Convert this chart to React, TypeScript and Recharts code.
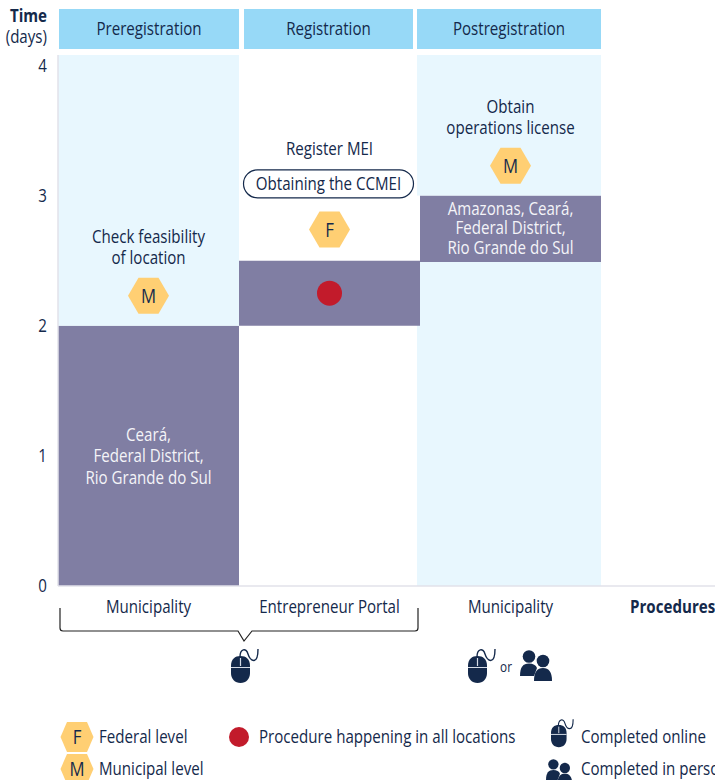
import {
  Bar,
  BarChart,
  Cell,
  ReferenceDot,
  XAxis,
  YAxis,
} from "recharts";

const stages = ["Preregistration", "Registration", "Postregistration"];
const authorities = ["Municipality", "Entrepreneur Portal", "Municipality"];
const lowerDays = [2, 2, 2.49];
const darkDays = [0, 0.5, 0.51];
const upperDays = [2.08, 1.58, 1.08];
const dayTicks = [0, 1, 2, 3, 4];

const data = stages.map((stage, i) => ({
  stage,
  lower: lowerDays[i],
  dark: darkDays[i],
  upper: upperDays[i],
}));

const TEXT = "#14294b";
const HEADER = "#97d9f7";
const LIGHT = "#e8f7fe";
const DARK = "#807ea3";
const HEX = "#ffcf73";
const RED = "#c21b2b";
const FONT = "'Open Sans', sans-serif";
const SQUEEZE = 0.84;

// header rectangles are not quite the same as the bands
const headerEdges = [
  [-89.5, 90.5],
  [-85.5, 83.5],
  [-93.5, 90.5],
];

const T = ({ x, y, children, size = 18, anchor = "middle", fill = TEXT, weight = 400 }: any) => (
  <text
    transform={`translate(${x},${y - 0.7}) scale(${SQUEEZE},1)`}
    textAnchor={anchor}
    dominantBaseline="central"
    fontFamily={FONT}
    fontSize={size}
    fontWeight={weight}
    fill={fill}
  >
    {children}
  </text>
);

const Hexagon = ({ cx, cy, letter, rx = 20.5, ry = 18, flat = 10 }: any) => (
  <g>
    <polygon
      points={`${cx - rx},${cy} ${cx - flat},${cy - ry} ${cx + flat},${cy - ry} ${cx + rx},${cy} ${cx + flat},${cy + ry} ${cx - flat},${cy + ry}`}
      fill={HEX}
    />
    <T x={cx} y={cy} size={20}>
      {letter}
    </T>
  </g>
);

const MouseIcon = ({ x, y, s = 1 }: any) => (
  <g transform={`translate(${x},${y}) scale(${s})`}>
    <path d="M9 1 C9 -7 15 -9 17 -2 C19 5 27 10 27 -7" fill="none" stroke={TEXT} strokeWidth={1.4} />
    <path d="M0 10 C0 3 4 0 9.5 0 C15 0 19 3 19 10 L19 17 C19 23 15 27 9.5 27 C4 27 0 23 0 17 Z" fill={TEXT} />
    <path d="M0 11.5 H19 M9.5 2 V10" stroke="#d5dbe6" strokeWidth={1.2} fill="none" />
  </g>
);

const PeopleIcon = ({ x, y, s = 1 }: any) => (
  <g transform={`translate(${x},${y}) scale(${s})`} fill={TEXT}>
    <circle cx={9} cy={6.5} r={6.3} />
    <path d="M0 26 C0 17 3 13.5 9 13.5 C13 13.5 16 15 17 18 L14 26 Z" />
    <circle cx={23} cy={11} r={6.3} />
    <path d="M14 31 C14 22 17 18 23 18 C29 18 32 22 32 31 Z" />
  </g>
);

const HeaderTick = ({ x, payload, index }: any) => {
  const [from, to] = headerEdges[index];
  return (
    <g>
      <rect x={x + from} y={9} width={to - from} height={40} fill={HEADER} />
      <T x={x + (from + to) / 2} y={29}>
        {payload.value}
      </T>
    </g>
  );
};

const AuthorityTick = ({ x, index }: any) => (
  <T x={x} y={607}>
    {authorities[index]}
  </T>
);

const DayTick = ({ y, payload }: any) => (
  <T x={47} y={y} anchor="end">
    {payload.value}
  </T>
);

// the postregistration tint starts a little left of its band
const TintBar = ({ x, y, width, height, fill, index }: any) => {
  const extra = index === 2 ? 3 : 0;
  return <rect x={x - extra} y={y} width={width + extra} height={height} fill={fill} />;
};

const notes = [
  { stage: stages[0], day: 2.6, lines: ["Check feasibility", "of location"] },
  { stage: stages[2], day: 3.6, lines: ["Obtain", "operations license"] },
];
const darkNotes = [
  { stage: stages[0], day: 1, lines: ["Ceará,", "Federal District,", "Rio Grande do Sul"], gap: 21.5 },
  { stage: stages[2], day: 2.75, lines: ["Amazonas, Ceará,", "Federal District,", "Rio Grande do Sul"], gap: 19.5 },
];
const hexNotes = [
  { stage: stages[0], day: 2.23, letter: "M" },
  { stage: stages[1], day: 2.74, letter: "F" },
  { stage: stages[2], day: 3.23, letter: "M" },
];

const Lines = ({ cx, cy, lines, fill, gap = 21 }: any) => (
  <g>
    {lines.map((line: string, i: number) => (
      <T key={i} x={cx} y={cy + (i - (lines.length - 1) / 2) * gap} fill={fill}>
        {line}
      </T>
    ))}
  </g>
);

const App = () => {
  return (
    <div style={{ position: "absolute", left: 0, top: 0, width: 715, height: 780 }}>
      <BarChart
        width={715}
        height={780}
        data={data}
        barCategoryGap={0}
        margin={{ top: 0, right: 0, bottom: 164, left: 0 }}
      >
        <XAxis
          xAxisId="top"
          orientation="top"
          dataKey="stage"
          height={55}
          padding={{ left: 0, right: 114 }}
          axisLine={false}
          tickLine={false}
          tick={<HeaderTick />}
        />
        <XAxis
          dataKey="stage"
          height={30}
          padding={{ left: 0, right: 114 }}
          axisLine={{ stroke: "#e2e2ea", strokeWidth: 1.5 }}
          tickLine={false}
          tick={<AuthorityTick />}
        />
        <YAxis
          width={58}
          domain={[0, 4.08]}
          ticks={dayTicks}
          axisLine={{ stroke: "#e2e2ea", strokeWidth: 1.5 }}
          tickLine={false}
          tick={<DayTick />}
        />
        <Bar dataKey="lower" stackId="a" shape={<TintBar />} isAnimationActive={false}>
          <Cell fill={DARK} />
          <Cell fill="none" />
          <Cell fill={LIGHT} />
        </Bar>
        <Bar dataKey="dark" stackId="a" fill={DARK} isAnimationActive={false} />
        <Bar dataKey="upper" stackId="a" shape={<TintBar />} isAnimationActive={false}>
          <Cell fill={LIGHT} />
          <Cell fill="none" />
          <Cell fill={LIGHT} />
        </Bar>

        {notes.map((n) => (
          <ReferenceDot
            key={n.lines[0]}
            x={n.stage}
            y={n.day}
            shape={(p: any) => <Lines cx={p.cx} cy={p.cy} lines={n.lines} />}
          />
        ))}
        {darkNotes.map((n) => (
          <ReferenceDot
            key={n.lines[0]}
            x={n.stage}
            y={n.day}
            shape={(p: any) => <Lines cx={p.cx} cy={p.cy} lines={n.lines} gap={n.gap} fill="#f4f4f8" />}
          />
        ))}
        {hexNotes.map((n) => (
          <ReferenceDot
            key={n.stage}
            x={n.stage}
            y={n.day}
            shape={(p: any) => <Hexagon cx={p.cx} cy={p.cy} letter={n.letter} />}
          />
        ))}
        <ReferenceDot
          x={stages[1]}
          y={3.24}
          shape={(p: any) => (
            <g>
              <T x={p.cx} y={p.cy - 15.5}>Register MEI</T>
              <rect x={p.cx - 86} y={p.cy + 5.5} width={170} height={28} rx={14} fill="#fff" stroke={TEXT} strokeWidth={1.2} />
              <T x={p.cx - 1} y={p.cy + 19.5}>Obtaining the CCMEI</T>
            </g>
          )}
        />
        <ReferenceDot x={stages[1]} y={2.25} r={12.5} fill={RED} stroke="none" />

        <T x={47} y={16} anchor="end" weight={700}>Time</T>
        <T x={47} y={37} anchor="end">(days)</T>
        <T x={630} y={607} anchor="start" weight={700}>Procedures</T>

        <path
          d="M60 608 V628 Q60 631 63 631 H238 L244 641 L252 631 H415 Q418 631 418 628 V608"
          fill="none"
          stroke="#222"
          strokeWidth={1.2}
        />
        <MouseIcon x={231} y={656} />
        <MouseIcon x={468} y={656} />
        <T x={506} y={667} size={14}>or</T>
        <PeopleIcon x={520} y={650} />

        <Hexagon cx={77} cy={737} letter="F" rx={16.5} ry={15} />
        <T x={99} y={737} anchor="start">Federal level</T>
        <Hexagon cx={77} cy={769} letter="M" rx={16.5} ry={15} />
        <T x={99} y={769} anchor="start">Municipal level</T>
        <circle cx={239} cy={737} r={10} fill={RED} />
        <T x={259} y={737} anchor="start">Procedure happening in all locations</T>
        <MouseIcon x={551} y={725} s={0.82} />
        <T x={581} y={737} anchor="start">Completed online</T>
        <PeopleIcon x={546} y={759} s={0.82} />
        <T x={581} y={769} anchor="start">Completed in person</T>
      </BarChart>
    </div>
  );
};

export default App;
